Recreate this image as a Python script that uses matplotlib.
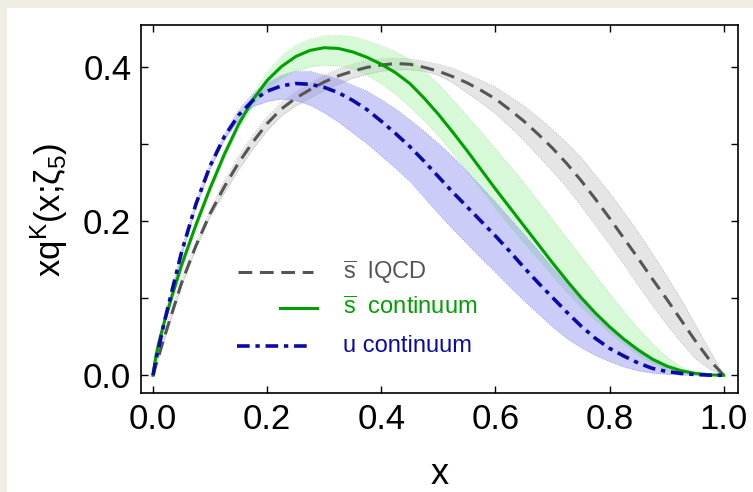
import numpy as np
import matplotlib
matplotlib.use("Agg")
import matplotlib.pyplot as plt
from matplotlib.lines import Line2D
from matplotlib.patches import Rectangle

plt.rcParams['font.family'] = ['Liberation Sans', 'DejaVu Sans']
plt.rcParams['mathtext.default'] = 'regular'

# momentum fraction grid
x = [0.0, 0.005, 0.01, 0.02, 0.035, 0.05,
     0.075, 0.1, 0.125, 0.15, 0.175, 0.2, 0.225, 0.25, 0.275, 0.3, 0.325, 0.35, 0.375,
     0.4, 0.425, 0.45, 0.475, 0.5, 0.525, 0.55, 0.575, 0.6, 0.625, 0.65, 0.675, 0.7,
     0.725, 0.75, 0.775, 0.8, 0.825, 0.85, 0.875, 0.9, 0.925, 0.95, 0.975, 1.0]

# sbar, lattice QCD
sbar_lqcd = [0.0, 0.013, 0.025, 0.05, 0.085, 0.12,
             0.168, 0.21, 0.245, 0.276, 0.303, 0.327, 0.346, 0.36, 0.371, 0.381, 0.389, 0.395, 0.4,
             0.403, 0.405, 0.404, 0.4, 0.395, 0.388, 0.38, 0.37, 0.359, 0.345, 0.33, 0.313, 0.295,
             0.275, 0.253, 0.229, 0.204, 0.178, 0.152, 0.125, 0.099, 0.072, 0.045, 0.02, 0.0]
sbar_lqcd_hi = [0.0, 0.015, 0.028, 0.054, 0.089, 0.124,
                0.172, 0.214, 0.253, 0.285, 0.312, 0.336, 0.355, 0.369, 0.38, 0.39, 0.398, 0.404, 0.409,
                0.411, 0.412, 0.411, 0.408, 0.404, 0.399, 0.391, 0.383, 0.3745, 0.362, 0.35, 0.335, 0.319,
                0.302, 0.283, 0.26, 0.237, 0.212, 0.186, 0.158, 0.129, 0.099, 0.066, 0.033, 0.0]
sbar_lqcd_lo = [0.0, 0.011, 0.022, 0.046, 0.081, 0.116,
                0.164, 0.206, 0.237, 0.267, 0.294, 0.318, 0.337, 0.35, 0.36, 0.37, 0.378, 0.386, 0.391,
                0.395, 0.397, 0.397, 0.395, 0.39, 0.38, 0.367, 0.354, 0.34, 0.323, 0.305, 0.285, 0.265,
                0.244, 0.22, 0.195, 0.17, 0.144, 0.117, 0.091, 0.066, 0.043, 0.022, 0.008, 0.0]

# sbar, continuum
sbar_cont = [0.0, 0.025, 0.042, 0.07, 0.107, 0.143,
             0.195, 0.243, 0.287, 0.326, 0.358, 0.383, 0.401, 0.414, 0.422, 0.4255, 0.4245, 0.42, 0.413,
             0.404, 0.393, 0.379, 0.36, 0.339, 0.316, 0.292, 0.267, 0.242, 0.218, 0.194, 0.17, 0.146,
             0.123, 0.101, 0.081, 0.063, 0.047, 0.033, 0.021, 0.012, 0.006, 0.0025, 0.0006, 0.0]
sbar_cont_hi = [0.0, 0.027, 0.045, 0.074, 0.112, 0.148,
                0.2, 0.248, 0.292, 0.331, 0.365, 0.394, 0.415, 0.429, 0.437, 0.441, 0.442, 0.44, 0.435,
                0.428, 0.42, 0.41, 0.395, 0.378, 0.358, 0.337, 0.316, 0.294, 0.272, 0.25, 0.226, 0.202,
                0.178, 0.154, 0.13, 0.106, 0.083, 0.061, 0.041, 0.024, 0.011, 0.004, 0.001, 0.0]
sbar_cont_lo = [0.0, 0.023, 0.039, 0.066, 0.102, 0.138,
                0.19, 0.238, 0.282, 0.321, 0.351, 0.371, 0.386, 0.395, 0.401, 0.403, 0.402, 0.398, 0.39,
                0.379, 0.365, 0.349, 0.331, 0.311, 0.289, 0.265, 0.24, 0.216, 0.193, 0.171, 0.15, 0.128,
                0.107, 0.088, 0.071, 0.055, 0.04, 0.026, 0.015, 0.007, 0.003, 0.001, 0.0002, 0.0]

# u, continuum
u_cont = [0.0, 0.02, 0.036, 0.07, 0.115, 0.16,
          0.222, 0.272, 0.31, 0.338, 0.357, 0.369, 0.376, 0.379, 0.378, 0.374, 0.367, 0.357, 0.345,
          0.33, 0.314, 0.297, 0.278, 0.258, 0.238, 0.219, 0.2, 0.181, 0.161, 0.14, 0.12, 0.101,
          0.082, 0.064, 0.048, 0.035, 0.025, 0.016, 0.009, 0.005, 0.0025, 0.001, 0.0002, 0.0]
u_cont_hi = [0.0, 0.022, 0.039, 0.074, 0.119, 0.164,
             0.226, 0.276, 0.314, 0.345, 0.366, 0.381, 0.39, 0.395, 0.395, 0.39, 0.385, 0.377, 0.369,
             0.358, 0.346, 0.332, 0.317, 0.301, 0.284, 0.265, 0.245, 0.225, 0.204, 0.183, 0.162, 0.14,
             0.119, 0.098, 0.078, 0.061, 0.045, 0.031, 0.019, 0.01, 0.005, 0.002, 0.0005, 0.0]
u_cont_lo = [0.0, 0.018, 0.033, 0.066, 0.111, 0.156,
             0.218, 0.268, 0.306, 0.332, 0.349, 0.356, 0.359, 0.357, 0.351, 0.341, 0.329, 0.315, 0.301,
             0.285, 0.269, 0.252, 0.231, 0.21, 0.19, 0.171, 0.152, 0.134, 0.115, 0.097, 0.08, 0.063,
             0.048, 0.036, 0.026, 0.018, 0.011, 0.006, 0.003, 0.0015, 0.0005, 0.0002, 0.0, 0.0]

c_gray, c_green, c_blue = '#555555', '#00a000', '#0a0aa8'
dash_gray = (4.5, 2.5)
dash_blue = (3.5, 1.6, 1.2, 1.6)

fig = plt.figure(figsize=(7.53, 4.92), dpi=100)
fig.patch.set_facecolor('#efede4')
fig.patches.append(Rectangle((7 / 753, 0), 1, 1 - 8 / 492, transform=fig.transFigure,
                             facecolor='white', edgecolor='none', zorder=-10))
ax = fig.add_axes([0.1873, 0.2012, 0.7928, 0.748])

# uncertainty bands
ax.fill_between(x, sbar_lqcd_lo, sbar_lqcd_hi, color='#999999', alpha=0.25, lw=0)
ax.fill_between(x, sbar_cont_lo, sbar_cont_hi, color='#90ee90', alpha=0.35, lw=0)
ax.fill_between(x, u_cont_lo, u_cont_hi, color='#6f6ff0', alpha=0.35, lw=0)
for lo, hi, c in [(sbar_lqcd_lo, sbar_lqcd_hi, '#b0b0b0'),
                  (sbar_cont_lo, sbar_cont_hi, '#a0eaa0'),
                  (u_cont_lo, u_cont_hi, '#9090f0')]:
    ax.plot(x, lo, color=c, lw=0.6, ls=':')
    ax.plot(x, hi, color=c, lw=0.6, ls=':')

# central curves
ax.plot(x, sbar_lqcd, color=c_gray, lw=2.2, dashes=dash_gray)
ax.plot(x, sbar_cont, color=c_green, lw=2.2, solid_joinstyle='round')
ax.plot(x, u_cont, color=c_blue, lw=2.6, dashes=dash_blue)

ax.set_xlim(-0.021, 1.025)
ax.set_ylim(-0.023, 0.455)
ax.set_xticks([0.0, 0.2, 0.4, 0.6, 0.8, 1.0])
ax.set_xticklabels(['0.0', '0.2', '0.4', '0.6', '0.8', '1.0'])
ax.set_yticks([0.0, 0.2, 0.4])
ax.set_yticklabels(['0.0', '0.2', '0.4'])
ax.set_yticks([0.1, 0.3], minor=True)
ax.tick_params(which='both', direction='in', top=True, right=True, labelsize=25,
               width=1.0, length=5, pad=7)
for s in ax.spines.values():
    s.set_linewidth(1.2)

fig.text(440 / 753, 1 - 484 / 492, 'x', fontsize=26, ha='center', va='baseline')
fig.text(49 / 753, 1 - 210 / 492, r'xq$^K$(x;$\zeta_5$)', fontsize=25,
         rotation=90, ha='center', va='center')

# legend
entries = [
    (238, 313, 272, dict(color=c_gray, lw=2.2, dashes=dash_gray), r'$\overline{s}$  lQCD', c_gray),
    (280, 317, 308, dict(color=c_green, lw=2.2), r'$\overline{s}$  continuum', c_green),
    (237, 310, 346, dict(color=c_blue, lw=2.6, dashes=dash_blue), 'u continuum', c_blue),
]
for x0, x1, yp, style, label, tc in entries:
    fy = 1 - yp / 492
    fig.lines.append(Line2D([x0 / 753, x1 / 753], [fy, fy], transform=fig.transFigure, **style))
    fig.text(343 / 753, fy, label, color=tc, fontsize=17, ha='left', va='center')

fig.savefig('out.png', dpi=100)
